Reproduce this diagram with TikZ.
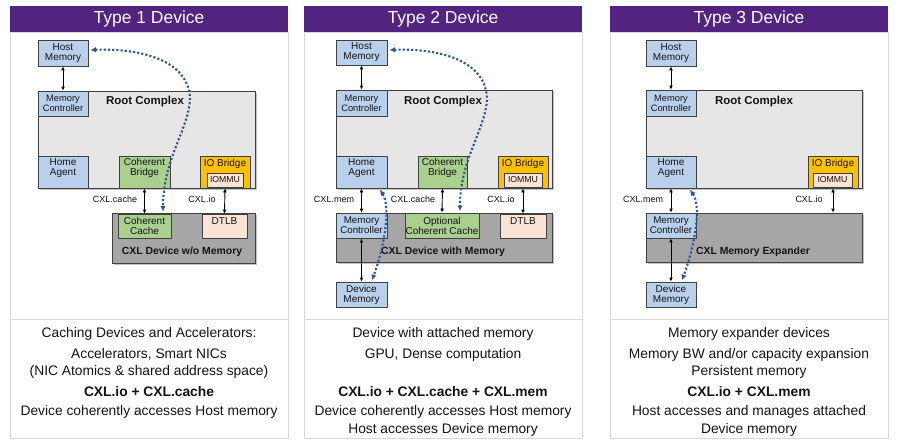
\documentclass[tikz,border=0pt]{standalone}
\usepackage{fontspec}
\setmainfont{Liberation Sans}
\usetikzlibrary{arrows.meta,shadows}
\definecolor{hdr}{RGB}{82,36,128}
\definecolor{lblue}{RGB}{184,208,236}
\definecolor{lgreen}{RGB}{169,208,142}
\definecolor{orng}{RGB}{255,192,0}
\definecolor{peach}{RGB}{251,228,213}
\definecolor{rcgray}{RGB}{230,230,230}
\definecolor{devgray}{RGB}{166,166,166}
\definecolor{edge}{RGB}{64,64,64}
\definecolor{framecol}{RGB}{217,217,217}
\definecolor{dotblue}{RGB}{47,85,151}
\definecolor{txt}{RGB}{20,20,20}
\tikzset{
  box/.style={draw=edge, line width=0.8pt, inner sep=0pt, align=center, text=txt, font=\fontsize{10}{10}\selectfont},
  bbox/.style={box, fill=lblue},
  gbox/.style={box, fill=lgreen},
  obox/.style={box, fill=orng},
  pbox/.style={box, fill=peach},
  sz/.style 2 args={minimum width=#1, minimum height=#2},
  rcbox/.style={draw=edge, line width=0.8pt, fill=rcgray, inner sep=0pt,
     drop shadow={shadow xshift=1.6pt, shadow yshift=-1.6pt, fill=black!45}},
  devbox/.style={draw=edge, line width=0.8pt, fill=devgray, inner sep=0pt,
     drop shadow={shadow xshift=1.6pt, shadow yshift=-1.6pt, fill=black!45}},
  lbl/.style={inner sep=0pt, align=center, text=txt, font=\fontsize{10}{10}\selectfont},
  bigtxt/.style={inner sep=0pt, text=txt, font=\bfseries\fontsize{11.5}{12}\selectfont},
  devtxt/.style={inner sep=0pt, text=txt, font=\bfseries\fontsize{10.4}{11}\selectfont},
  plabel/.style={inner sep=0pt, text=txt, font=\fontsize{9}{9}\selectfont},
  dbl/.style={{Latex[length=4pt,width=3.8pt]}-{Latex[length=4pt,width=3.8pt]}, line width=0.9pt, black},
  dotlink/.style={draw=dotblue, line width=2.1pt, dash pattern=on 2.1pt off 2.1pt,
     {Latex[length=5.5pt,width=5.5pt]}-{Latex[length=5.5pt,width=5.5pt]}},
  hdrbar/.style={fill=hdr, text=white, inner sep=0pt, font=\fontsize{17.5}{18}\selectfont},
  panel/.style={draw=framecol, line width=0.9pt},
  desc/.style={anchor=base, inner sep=0pt, text=txt, font=\fontsize{13.8}{14}\selectfont},
  descb/.style={desc, font=\bfseries\fontsize{13.8}{14}\selectfont}
}
\begin{document}
\begin{tikzpicture}[x=1pt,y=-1pt]
\useasboundingbox[fill=white] (0,0) rectangle (900,442);

% ---------------- panels ----------------
\draw[panel] (10,32) rectangle (288,319);
\draw[panel] (10,319) rectangle (288,438);
\draw[panel] (304,32) rectangle (582,319);
\draw[panel] (304,319) rectangle (582,438);
\draw[panel] (610,32) rectangle (888,319);
\draw[panel] (610,319) rectangle (888,438);
\node[hdrbar, sz={278pt}{26pt}] (ttl1) at (149,19) {Type 1 Device};
\node[hdrbar, sz={278pt}{26pt}] (ttl2) at (443,19) {Type 2 Device};
\node[hdrbar, sz={278pt}{26pt}] (ttl3) at (749,19) {Type 3 Device};

% ---------------- Type 1 ----------------
\node[rcbox, sz={217pt}{97pt}] (rc1) at (146.5,139.5) {};
\node[devbox, sz={143pt}{50pt}] (dev1) at (183.5,238) {};
\node[bbox, sz={50pt}{26pt}] (hm1) at (63,53) {Host\\Memory};
\node[bbox, sz={50pt}{25pt}, font=\fontsize{9.3}{10}\selectfont] (mc1) at (63,103.5) {Memory\\Controller};
\node[bigtxt] (rct1) at (145,102) {Root Complex};
\node[bbox, sz={50pt}{32pt}] (ha1) at (63,172) {};
\node[lbl] (ha1t) at (63,168) {Home\\Agent};
\node[gbox, sz={51pt}{32pt}] (cb1) at (144.5,172) {};
\node[lbl] (cb1t) at (144.5,168) {Coherent\\Bridge};
\node[obox, sz={50pt}{32pt}] (iob1) at (225,172) {};
\node[lbl] (iob1t) at (225,163.5) {IO Bridge};
\node[pbox, sz={36pt}{14pt}, font=\fontsize{8.7}{9}\selectfont] (iommu1) at (225,180) {IOMMU};
\node[gbox, sz={53pt}{24pt}] (cc1) at (144.5,226) {Coherent\\Cache};
\node[pbox, sz={45pt}{24pt}] (dtlb1) at (224.5,226) {};
\node[lbl] (dtlb1t) at (224.5,221) {DTLB};
\node[devtxt] (devt1) at (182,252) {CXL Device w/o Memory};
\draw[dbl] (hm1.south) -- (mc1.north);
\draw[dbl] (cb1.south) -- (cc1.north);
\draw[dbl] (iob1.south) -- (dtlb1.north);
\node[plabel] (l1a) at (115,199) {CXL.cache};
\node[plabel] (l1b) at (202,199) {CXL.io};
\draw[dotlink] ([xshift=2pt,yshift=3pt]hm1.east) .. controls (140,48) and (190,60) .. (190,100)
   .. controls (188,130) and (163,160) .. ([xshift=18.5pt,yshift=2pt]cc1.north);

% ---------------- Type 2 ----------------
\node[rcbox, sz={216pt}{98pt}] (rc2) at (444,139) {};
\node[devbox, sz={216pt}{49pt}] (dev2) at (444,237.5) {};
\node[bbox, sz={51pt}{25pt}] (hm2) at (361.5,52.5) {Host\\Memory};
\node[bbox, sz={51pt}{26pt}, font=\fontsize{9.3}{10}\selectfont] (mc2) at (361.5,103) {Memory\\Controller};
\node[bigtxt] (rct2) at (443,102) {Root Complex};
\node[bbox, sz={51pt}{32pt}] (ha2) at (361.5,172) {};
\node[lbl] (ha2t) at (361.5,168) {Home\\Agent};
\node[gbox, sz={49pt}{32pt}] (cb2) at (442.5,172) {};
\node[lbl] (cb2t) at (442.5,168) {Coherent\\Bridge};
\node[obox, sz={50pt}{32pt}] (iob2) at (523,172) {};
\node[lbl] (iob2t) at (523,163.5) {IO Bridge};
\node[pbox, sz={38pt}{14pt}, font=\fontsize{8.7}{9}\selectfont] (iommu2) at (523,180) {IOMMU};
\node[bbox, sz={51pt}{25pt}, font=\fontsize{9.8}{10}\selectfont] (mcd2) at (361.5,225.5) {Memory\\Controller};
\node[gbox, sz={74pt}{25pt}] (occ2) at (442,225.5) {Optional\\Coherent Cache};
\node[pbox, sz={46pt}{24pt}] (dtlb2) at (523,226) {};
\node[lbl] (dtlb2t) at (523,221) {DTLB};
\node[devtxt] (devt2) at (443,252) {CXL Device with Memory};
\node[bbox, sz={51pt}{25pt}] (dm2) at (361.5,294.5) {Device\\Memory};
\draw[dbl] (hm2.south) -- (mc2.north);
\draw[dbl] (ha2.south) -- (mcd2.north);
\draw[dbl] (cb2.south) -- (occ2.north);
\draw[dbl] (iob2.south) -- (dtlb2.north);
\draw[dbl] (mcd2.south) -- (dm2.north);
\node[plabel] (l2a) at (334,199) {CXL.mem};
\node[plabel] (l2b) at (413,199) {CXL.cache};
\node[plabel] (l2c) at (501,199) {CXL.io};
\draw[dotlink] ([xshift=2pt,yshift=2.5pt]hm2.east) .. controls (438,48) and (487,60) .. (487,100)
   .. controls (485,130) and (460,160) .. ([xshift=18pt,yshift=1.5pt]occ2.north);
\draw[dotlink] ([xshift=18.5pt,yshift=-1.5pt]ha2.south) .. controls (390,205) and (386,242) .. ([xshift=10.5pt,yshift=1.5pt]dm2.north);

% ---------------- Type 3 ----------------
\node[rcbox, sz={216pt}{98pt}] (rc3) at (754,139) {};
\node[devbox, sz={216pt}{49pt}] (dev3) at (754,237.5) {};
\node[bbox, sz={50pt}{26pt}] (hm3) at (671,53) {Host\\Memory};
\node[bbox, sz={50pt}{26pt}, font=\fontsize{9.3}{10}\selectfont] (mc3) at (671,103) {Memory\\Controller};
\node[bigtxt] (rct3) at (754,102) {Root Complex};
\node[bbox, sz={50pt}{32pt}] (ha3) at (671,172) {};
\node[lbl] (ha3t) at (671,168) {Home\\Agent};
\node[obox, sz={50pt}{32pt}] (iob3) at (833,172) {};
\node[lbl] (iob3t) at (833,163.5) {IO Bridge};
\node[pbox, sz={39pt}{14pt}, font=\fontsize{8.7}{9}\selectfont] (iommu3) at (832.5,180) {IOMMU};
\node[bbox, sz={50pt}{25pt}, font=\fontsize{9.8}{10}\selectfont] (mcd3) at (671,225.5) {Memory\\Controller};
\node[devtxt] (devt3) at (753,252) {CXL Memory Expander};
\node[bbox, sz={50pt}{25pt}] (dm3) at (671,294.5) {Device\\Memory};
\draw[dbl] (hm3.south) -- (mc3.north);
\draw[dbl] (ha3.south) -- (mcd3.north);
\draw[dbl] (iob3.south) -- (iob3.south |- dev3.north);
\draw[dbl] (mcd3.south) -- (dm3.north);
\node[plabel] (l3a) at (643,199) {CXL.mem};
\node[plabel] (l3b) at (809,199) {CXL.io};
\draw[dotlink] ([xshift=19pt,yshift=-1.5pt]ha3.south) .. controls (701,205) and (696,242) .. ([xshift=11pt,yshift=1.5pt]dm3.north);

% ---------------- descriptions ----------------
\node[desc] (d1a) at (149,337) {Caching Devices and Accelerators:};
\node[desc] (d1b) at (149,358) {Accelerators, Smart NICs};
\node[desc] (d1c) at (149,375) {(NIC Atomics \& shared address space)};
\node[descb] (d1d) at (149,396) {CXL.io + CXL.cache};
\node[desc] (d1e) at (149,415) {Device coherently accesses Host memory};

\node[desc] (d2a) at (443,337) {Device with attached memory};
\node[desc] (d2b) at (443,358) {GPU, Dense computation};
\node[descb] (d2c) at (443,396) {CXL.io + CXL.cache + CXL.mem};
\node[desc] (d2d) at (443,415) {Device coherently accesses Host memory};
\node[desc] (d2e) at (443,433) {Host accesses Device memory};

\node[desc] (d3a) at (749,337) {Memory expander devices};
\node[desc] (d3b) at (749,358) {Memory BW and/or capacity expansion};
\node[desc] (d3c) at (749,375) {Persistent memory};
\node[descb] (d3d) at (749,396) {CXL.io + CXL.mem};
\node[desc] (d3e) at (749,415) {Host accesses and manages attached};
\node[desc] (d3f) at (749,433) {Device memory};
\end{tikzpicture}
\end{document}
